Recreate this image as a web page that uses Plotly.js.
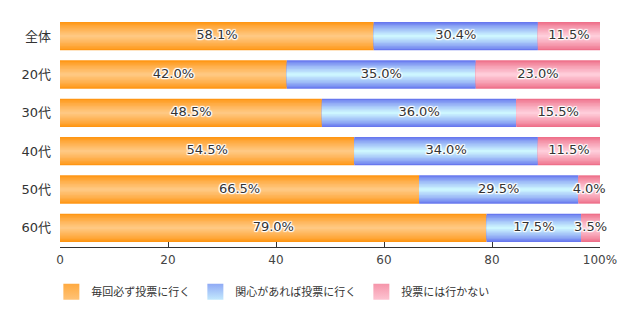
<!DOCTYPE html>
<html>
<head>
<meta charset="utf-8">
<script src="https://cdn.plot.ly/plotly-3.0.1.min.js"></script>
<style>html,body{margin:0;padding:0;background:#fff;}#chart{width:640px;height:321px;}</style>
</head>
<body>
<div id="chart"></div>
<script>
const categories = ["全体", "20代", "30代", "40代", "50代", "60代"];
const seriesNames = ["毎回必ず投票に行く", "関心があれば投票に行く", "投票には行かない"];
const always = [58.1, 42.0, 48.5, 54.5, 66.5, 79.0];
const ifInterested = [30.4, 35.0, 36.0, 34.0, 29.5, 17.5];
const never = [11.5, 23.0, 15.5, 11.5, 4.0, 3.5];
const xTickVals = [0, 20, 40, 60, 80, 100];
const xTickText = ["0", "20", "40", "60", "80", "100%"];

const series = [always, ifInterested, never];
const edgeColors = [[255, 150, 20], [104, 120, 238], [238, 112, 138]];
const centerColors = [[255, 200, 130], [205, 246, 255], [255, 205, 218]];
const FONT = '"Noto Sans CJK JP", "Noto Sans", sans-serif';
const NUMFONT = '"DejaVu Sans", "Noto Sans CJK JP", sans-serif';

function mix(a, b, t) {
  return 'rgb(' + a.map((v, i) => Math.round(v + (b[i] - v) * t)).join(',') + ')';
}

const traces = [];
const starts = series.map((s, si) => s.map((v, ci) => {
  let b = 0;
  for (let k = 0; k < si; k++) b += series[k][ci];
  return b;
}));

const K = 10;
const W = 0.74;
series.forEach((vals, si) => {
  for (let k = 0; k < K; k++) {
    const t = k / (K - 1);
    traces.push({
      type: 'bar', orientation: 'h',
      y: categories, x: vals, base: starts[si],
      width: W * (1 - 0.92 * t),
      marker: {color: mix(edgeColors[si], centerColors[si], Math.pow(t, 0.8)), line: {width: 0}},
      showlegend: false, hoverinfo: 'skip'
    });
  }
});

// value labels
series.forEach((vals, si) => {
  traces.push({
    type: 'scatter', mode: 'text',
    y: categories,
    x: vals.map((v, i) => starts[si][i] + v / 2),
    text: vals.map(v => v.toFixed(1) + '%'),
    textposition: 'middle center',
    textfont: {family: NUMFONT, size: 13, color: '#333',
      shadow: '1px 1px 1px #fff, -1px -1px 1px #fff, 1px -1px 1px #fff, -1px 1px 1px #fff, 0 1px 1px #fff, 0 -1px 1px #fff, 1px 0 1px #fff, -1px 0 1px #fff'},
    showlegend: false, hoverinfo: 'skip', cliponaxis: false
  });
});

// legend entries
seriesNames.forEach((name, si) => {
  traces.push({
    type: 'scatter', mode: 'markers', name: name,
    x: [null], y: [null],
    marker: {symbol: 'square', size: 16, color: mix(edgeColors[si], centerColors[si], 0.4),
      gradient: {type: 'vertical', color: mix(edgeColors[si], centerColors[si], 0.9)}, line: {width: 0}},
    showlegend: true
  });
});

const layout = {
  width: 640, height: 321,
  margin: {l: 60, r: 40, t: 17, b: 74},
  paper_bgcolor: '#fff', plot_bgcolor: '#fff',
  barmode: 'overlay',
  showlegend: true,
  legend: {orientation: 'h', x: -0.016, xanchor: 'left', y: -0.195, yanchor: 'middle',
    font: {family: FONT, size: 11, color: '#333'}, itemwidth: 30, tracegroupgap: 0},
  xaxis: {range: [0, 100], tickvals: xTickVals, ticktext: xTickText, showgrid: false,
    zeroline: false, showline: true, linecolor: '#333', linewidth: 1,
    ticks: 'inside', ticklen: 5, tickcolor: '#333', ticklabelstandoff: 2,
    tickfont: {family: NUMFONT, size: 12, color: '#444'}, fixedrange: true},
  yaxis: {autorange: 'reversed', showgrid: false, zeroline: false, showline: false,
    ticks: '', ticklabelstandoff: 8,
    tickfont: {family: NUMFONT, size: 13, color: '#333'}, fixedrange: true}
};

Plotly.newPlot('chart', traces, layout, {displayModeBar: false, staticPlot: true});
</script>
</body>
</html>
